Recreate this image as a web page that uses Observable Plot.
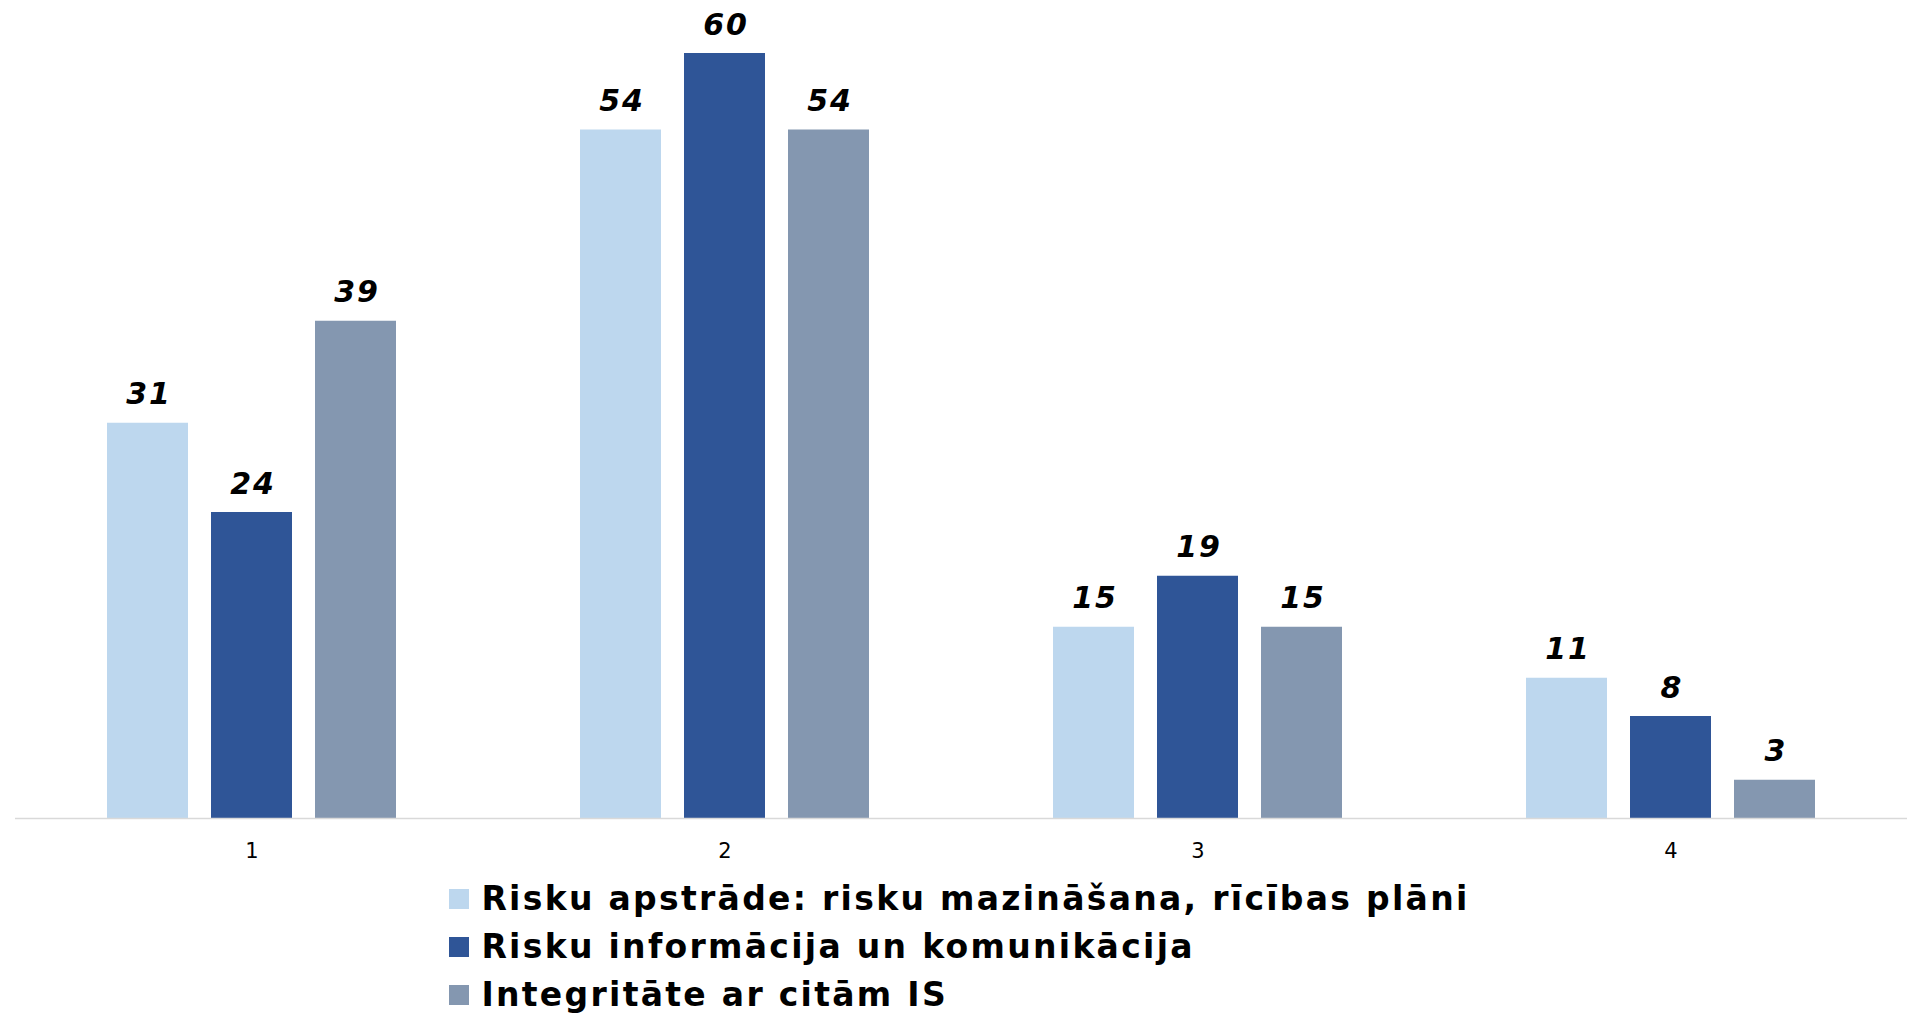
<!DOCTYPE html>
<html>
<head>
<meta charset="utf-8">
<script src="https://cdn.jsdelivr.net/npm/d3@7"></script>
<script src="https://cdn.jsdelivr.net/npm/@observablehq/plot@0.6"></script>
<style>
  html, body { margin: 0; padding: 0; background: #fff; }
  body { width: 1919px; height: 1014px; overflow: hidden; font-family: "DejaVu Sans", Verdana, sans-serif; }
  #legend { width: fit-content; margin: 5px auto 0 auto; display: flex; flex-direction: column; align-items: flex-start; }
  .item { display: flex; align-items: center; font-size: 33px; font-weight: bold; line-height: 48px; color: #000; letter-spacing: 2.3px; }
  .sw { width: 20px; height: 20px; margin-right: 12px; flex: none; }
  .vlabel text { letter-spacing: 2px; }
</style>
</head>
<body>
<div id="chart"></div>
<div id="legend"></div>
<script>
const categories = ["1", "2", "3", "4"];
const seriesNames = [
  "Risku apstrāde: risku mazināšana, rīcības plāni",
  "Risku informācija un komunikācija",
  "Integritāte ar citām IS"
];
const seriesColors = ["#BDD7EE", "#2F5597", "#8497B0"];
const valuesApstrade = [31, 54, 15, 11];
const valuesInformacija = [24, 60, 19, 8];
const valuesIntegritate = [39, 54, 15, 3];

const seriesValues = [valuesApstrade, valuesInformacija, valuesIntegritate];
const data = [];
categories.forEach((c, i) => {
  seriesNames.forEach((s, j) => {
    data.push({group: c, series: s, value: seriesValues[j][i]});
  });
});

const chart = Plot.plot({
  width: 1919,
  height: 870,
  marginLeft: 15,
  marginRight: 12,
  marginTop: 53,
  marginBottom: 52,
  style: {fontFamily: "DejaVu Sans, Verdana, sans-serif", fontSize: "21px", color: "#000", background: "#fff"},
  fx: {domain: categories, padding: 0, label: null, tickSize: 0, tickPadding: 25},
  x: {domain: seriesNames, paddingInner: 0.219, paddingOuter: 0.862, axis: null},
  y: {domain: [0, 60], axis: null},
  color: {domain: seriesNames, range: seriesColors},
  marks: [
    Plot.barY(data, {fx: "group", x: "series", y: "value", fill: "series"}),
    Plot.ruleY([0], {stroke: "#D9D9D9", strokeWidth: 1.5}),
    Plot.text(data, {
      fx: "group", x: "series", y: "value", text: d => String(d.value),
      lineAnchor: "bottom", dy: -19, dx: 1, fontSize: 30, fontWeight: "bold", fontStyle: "italic", fill: "#000",
      className: "vlabel"
    })
  ]
});
document.getElementById("chart").appendChild(chart);

const legend = document.getElementById("legend");
seriesNames.forEach((s, j) => {
  const item = document.createElement("div");
  item.className = "item";
  const sw = document.createElement("span");
  sw.className = "sw";
  sw.style.background = seriesColors[j];
  const t = document.createElement("span");
  t.textContent = s;
  item.appendChild(sw);
  item.appendChild(t);
  legend.appendChild(item);
});
</script>
</body>
</html>
